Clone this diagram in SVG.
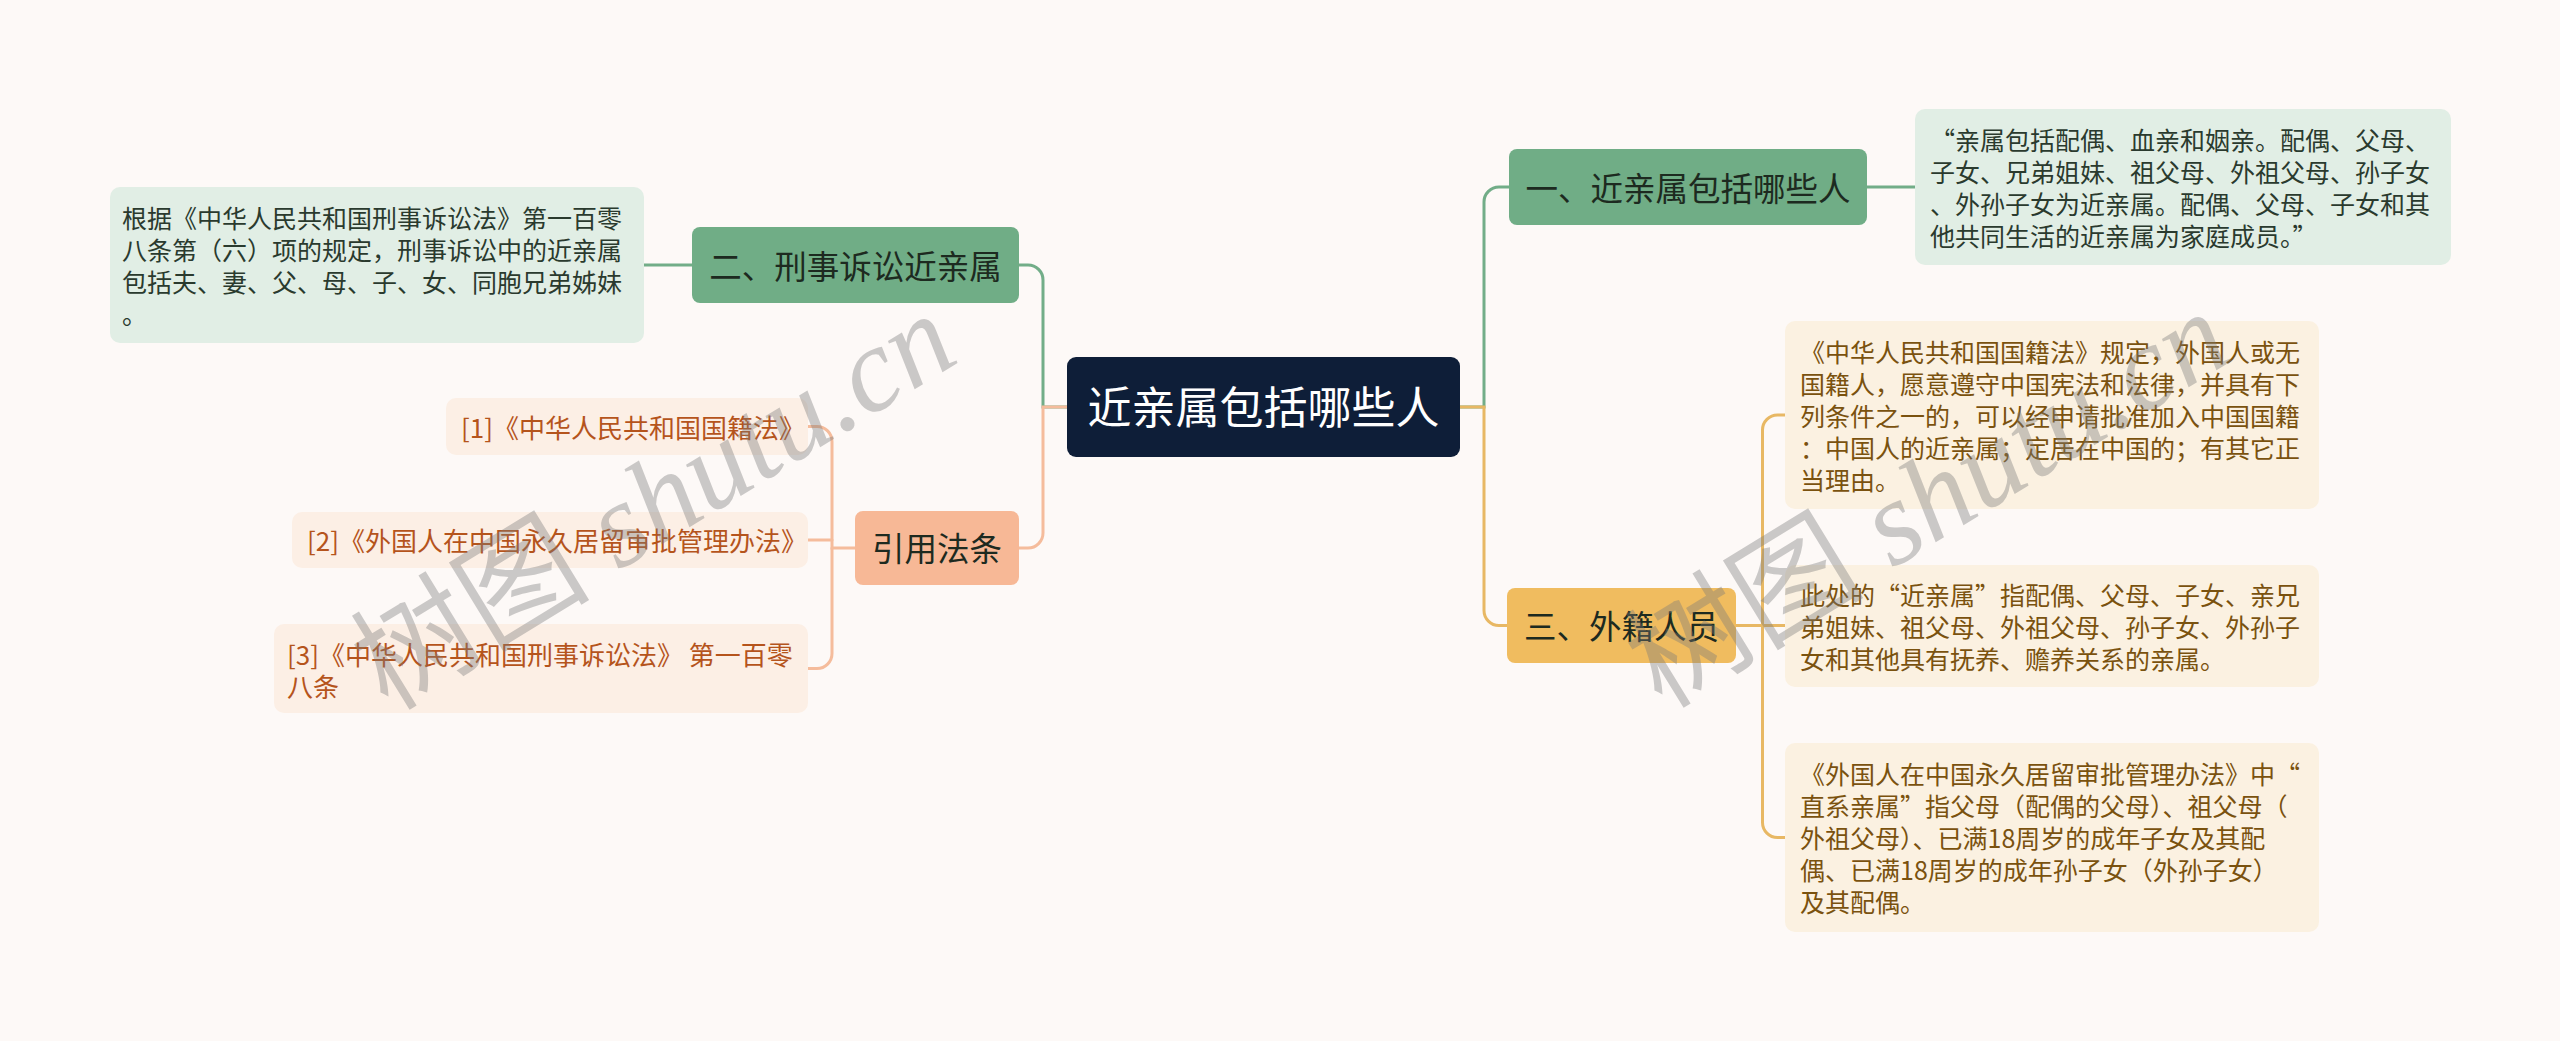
<svg xmlns="http://www.w3.org/2000/svg" width="2560" height="1041" viewBox="0 0 2560 1041">
<style>
text{font-family:"Noto Sans CJK SC","Noto Sans",sans-serif}
.c{fill:none;stroke-width:3;stroke-linecap:round}
.cg{stroke:#72ad88}.cs{stroke:#f5bc9c}.cy{stroke:#e8b864}
.nodeG{fill:#70ad86}.boxG{fill:#e1eee5}
.nodeS{fill:#f7b896}.boxS{fill:#fcefe5}
.nodeY{fill:#f0bc5f}.boxY{fill:#fbf1e1}
.tn{font-size:32.5px;fill:#1d2a20}
.tg{font-size:25px;fill:#2a3a2e}
.ts{font-size:26px;fill:#b5541c}
.ty{font-size:25px;fill:#7a520f}
.wm{font-size:120px;fill:#7a7a7a;opacity:.38}
</style>
<rect width="2560" height="1041" fill="#fdf9f7"/>
<g id="connectors">
<path class="c cg" d="M1067,407 H1043 V280 A15,15 0 0 0 1028,265 H1019"/>
<path class="c cs" d="M1067,407 H1043 V533 A15,15 0 0 1 1028,548 H1019"/>
<path class="c cg" d="M1460,407 H1484 V202 A15,15 0 0 1 1499,187 H1509"/>
<path class="c cy" d="M1460,407 H1484 V610.5 A15,15 0 0 0 1499,625.5 H1507"/>
<path class="c cg" d="M1867,187 H1915"/>
<path class="c cg" d="M692,265 H644"/>
<path class="c cy" d="M1736,625.5 H1762.5 V430 A15,15 0 0 1 1777.5,415 H1785"/>
<path class="c cy" d="M1762.5,625.5 H1785"/>
<path class="c cy" d="M1762.5,625.5 V822.5 A15,15 0 0 0 1777.5,837.5 H1785"/>
<path class="c cs" d="M855,548 H832 V441.5 A15,15 0 0 0 817,426.5 H808"/>
<path class="c cs" d="M832,540 H808"/>
<path class="c cs" d="M832,548 V653.5 A15,15 0 0 1 817,668.5 H808"/>
</g>
<g id="root">
<rect x="1067" y="357" width="393" height="100" rx="9" fill="#0e1e38"/>
<text x="1263.5" y="424" text-anchor="middle" font-size="44" fill="#ffffff">近亲属包括哪些人</text>
</g>
<g id="n1">
<rect class="nodeG" x="1509" y="149" width="358" height="76" rx="8"/>
<text class="tn" x="1688" y="200.5" text-anchor="middle">一、近亲属包括哪些人</text>
</g>
<g id="n1-detail">
<rect class="boxG" x="1915" y="109" width="536" height="156" rx="10"/>
<text class="tg" x="1930" y="149.5">“亲属包括配偶、血亲和姻亲。配偶、父母、</text>
<text class="tg" x="1930" y="181.5">子女、兄弟姐妹、祖父母、外祖父母、孙子女</text>
<text class="tg" x="1930" y="213.5">、外孙子女为近亲属。配偶、父母、子女和其</text>
<text class="tg" x="1930" y="245.5">他共同生活的近亲属为家庭成员。”</text>
</g>
<g id="n2">
<rect class="nodeG" x="692" y="227" width="327" height="76" rx="8"/>
<text class="tn" x="855.5" y="278.5" text-anchor="middle">二、刑事诉讼近亲属</text>
</g>
<g id="n2-detail">
<rect class="boxG" x="110" y="187" width="534" height="156" rx="10"/>
<text class="tg" x="122" y="227.5">根据《中华人民共和国刑事诉讼法》第一百零</text>
<text class="tg" x="122" y="259.5">八条第（六）项的规定，刑事诉讼中的近亲属</text>
<text class="tg" x="122" y="291.5">包括夫、妻、父、母、子、女、同胞兄弟姊妹</text>
<text class="tg" x="122" y="323.5">。</text>
</g>
<g id="n3">
<rect class="nodeY" x="1507" y="588" width="229" height="75" rx="8"/>
<text class="tn" x="1621.5" y="639" text-anchor="middle" fill="#2a2212">三、外籍人员</text>
</g>
<g id="n3-detail1">
<rect class="boxY" x="1785" y="321" width="534" height="188" rx="10"/>
<text class="ty" x="1800" y="361.5">《中华人民共和国国籍法》规定，外国人或无</text>
<text class="ty" x="1800" y="393.5">国籍人，愿意遵守中国宪法和法律，并具有下</text>
<text class="ty" x="1800" y="425.5">列条件之一的，可以经申请批准加入中国国籍</text>
<text class="ty" x="1800" y="457.5">：中国人的近亲属；定居在中国的；有其它正</text>
<text class="ty" x="1800" y="489.5">当理由。</text>
</g>
<g id="n3-detail2">
<rect class="boxY" x="1785" y="565" width="534" height="122" rx="10"/>
<text class="ty" x="1800" y="604.5">此处的“近亲属”指配偶、父母、子女、亲兄</text>
<text class="ty" x="1800" y="636.5">弟姐妹、祖父母、外祖父母、孙子女、外孙子</text>
<text class="ty" x="1800" y="668.5">女和其他具有抚养、赡养关系的亲属。</text>
</g>
<g id="n3-detail3">
<rect class="boxY" x="1785" y="743" width="534" height="189" rx="10"/>
<text class="ty" x="1800" y="784">《外国人在中国永久居留审批管理办法》中“</text>
<text class="ty" x="1800" y="816">直系亲属”指父母（配偶的父母）、祖父母（</text>
<text class="ty" x="1800" y="848">外祖父母）、已满18周岁的成年子女及其配</text>
<text class="ty" x="1800" y="880">偶、已满18周岁的成年孙子女（外孙子女）</text>
<text class="ty" x="1800" y="912">及其配偶。</text>
</g>
<g id="n4">
<rect class="nodeS" x="855" y="511" width="164" height="74" rx="8"/>
<text class="tn" x="937" y="561" text-anchor="middle" fill="#2b2b2b">引用法条</text>
</g>
<g id="n4-ref1">
<rect class="boxS" x="446" y="398" width="362" height="57" rx="10"/>
<text class="ts" x="461" y="437.5">[1]《中华人民共和国国籍法》</text>
</g>
<g id="n4-ref2">
<rect class="boxS" x="292" y="512" width="516" height="56" rx="10"/>
<text class="ts" x="307" y="551">[2]《外国人在中国永久居留审批管理办法》</text>
</g>
<g id="n4-ref3">
<rect class="boxS" x="274" y="624" width="534" height="89" rx="10"/>
<text class="ts" x="287" y="664.5">[3]《中华人民共和国刑事诉讼法》 第一百零</text>
<text class="ts" x="287" y="696.5">八条</text>
</g>
<g id="watermark">
<text class="wm" transform="translate(388,712) rotate(-31.5)">树图<tspan font-family="Liberation Serif,serif" font-style="italic"> shutu.cn</tspan></text>
<text class="wm" transform="translate(1662,710) rotate(-31.5)">树图<tspan font-family="Liberation Serif,serif" font-style="italic"> shutu.cn</tspan></text>
</g>
</svg>
